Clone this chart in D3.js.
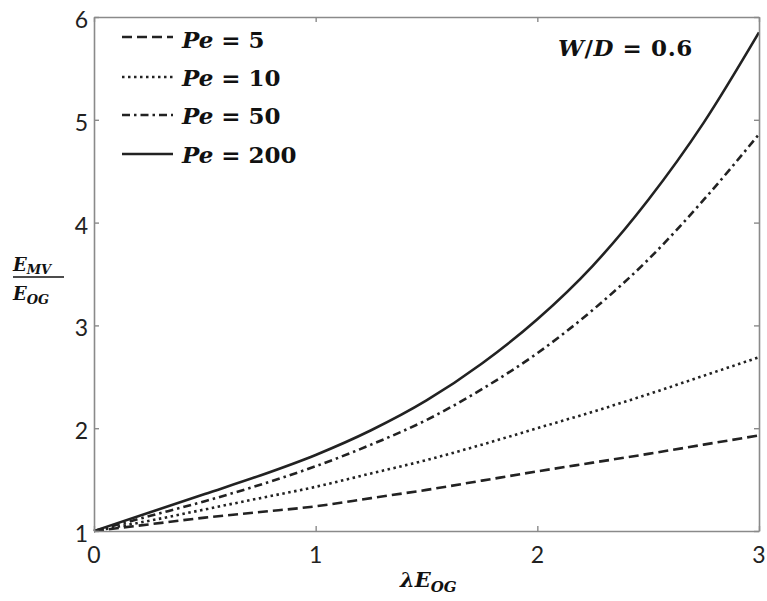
<!DOCTYPE html>
<html><head><meta charset="utf-8">
<script src="https://cdn.jsdelivr.net/npm/d3@7"></script>
<style>body{margin:0;background:#fff}svg{display:block}</style>
</head><body>
<svg id="c" width="767" height="601"></svg>
<script>
const xValues = [0, 0.25, 0.5, 0.75, 1, 1.25, 1.5, 1.75, 2, 2.25, 2.5, 2.75, 3];
const pe5   = [1, 1.065, 1.13, 1.185, 1.24, 1.32, 1.40, 1.49, 1.58, 1.665, 1.75, 1.84, 1.93];
const pe10  = [1, 1.10, 1.21, 1.32, 1.43, 1.56, 1.69, 1.84, 2.00, 2.16, 2.33, 2.51, 2.69];
const pe50  = [1, 1.145, 1.29, 1.45, 1.63, 1.84, 2.08, 2.38, 2.73, 3.15, 3.64, 4.22, 4.86];
const pe200 = [1, 1.18, 1.36, 1.54, 1.74, 1.98, 2.27, 2.63, 3.06, 3.58, 4.22, 4.97, 5.85];
const seriesNames = ["Pe = 5", "Pe = 10", "Pe = 50", "Pe = 200"];
const peLabels = ["5", "10", "50", "200"];
const xTicks = [0, 1, 2, 3];
const yTicks = [1, 2, 3, 4, 5, 6];
const annotation = "W/D = 0.6";

(function () {
const svg = d3.select("#c");
const L = 94, R = 759, T = 17, B = 531;
const x = d3.scaleLinear().domain([0, 3]).range([L, R]);
const y = d3.scaleLinear().domain([1, 6]).range([B, T]);

const dashes = ["10,5", "2.5,3.5", "8,4,2.5,4", null];
const allSeries = [pe5, pe10, pe50, pe200];
const frameColor = "#8a8a8a";
const lineColor = "#222";

// curves
const line = d3.line().x((d, i) => x(xValues[i])).y(d => y(d)).curve(d3.curveMonotoneX);
allSeries.forEach((s, k) => {
  svg.append("path").attr("d", line(s)).attr("fill", "none")
    .attr("stroke", lineColor).attr("stroke-width", 2.6)
    .attr("stroke-dasharray", dashes[k]);
});

// frame with inward ticks
const g = svg.append("g");
const tickLen = 5;
g.append("g").attr("transform", `translate(0,${B})`)
  .call(d3.axisBottom(x).tickValues(xTicks).tickSizeInner(-tickLen).tickSizeOuter(0).tickFormat(""));
g.append("g").attr("transform", `translate(0,${T})`)
  .call(d3.axisTop(x).tickValues(xTicks).tickSizeInner(-tickLen).tickSizeOuter(0).tickFormat(""));
g.append("g").attr("transform", `translate(${L},0)`)
  .call(d3.axisLeft(y).tickValues(yTicks).tickSizeInner(-tickLen).tickSizeOuter(0).tickFormat(""));
g.append("g").attr("transform", `translate(${R},0)`)
  .call(d3.axisRight(y).tickValues(yTicks).tickSizeInner(-tickLen).tickSizeOuter(0).tickFormat(""));
g.selectAll("path.domain").attr("stroke", frameColor).attr("stroke-width", 1.6);
g.selectAll(".tick line").attr("stroke", frameColor).attr("stroke-width", 1.4);

// tick labels
const tickFont = "Lato, 'Open Sans', sans-serif";
svg.append("g").selectAll("text").data(xTicks).join("text")
  .attr("x", d => x(d)).attr("y", 563).attr("text-anchor", "middle")
  .attr("font-family", tickFont).attr("font-size", 23).attr("fill", "#222")
  .text(d => d);
svg.append("g").selectAll("text").data(yTicks).join("text")
  .attr("x", 88).attr("y", d => y(d) + 11).attr("text-anchor", "end")
  .attr("font-family", tickFont).attr("font-size", 23).attr("fill", "#222")
  .text(d => d);

// legend
const serif = "'DejaVu Serif', serif";
const rowLine = [37, 77, 115, 154];
const rowBase = [48, 86, 124, 163];
seriesNames.forEach((nm, k) => {
  svg.append("line").attr("x1", 122).attr("x2", 173)
    .attr("y1", rowLine[k]).attr("y2", rowLine[k])
    .attr("stroke", lineColor).attr("stroke-width", 2.6)
    .attr("stroke-dasharray", dashes[k]);
  const t = svg.append("text").attr("x", 182).attr("y", rowBase[k])
    .attr("font-family", serif).attr("font-size", 23).attr("font-weight", "bold").attr("fill", "#111");
  t.append("tspan").attr("font-style", "italic").text("Pe");
  t.append("tspan").text(" = " + peLabels[k]);
});

// annotation
const ann = svg.append("text").attr("x", 558).attr("y", 56)
  .attr("font-family", serif).attr("font-size", 23).attr("font-weight", "bold").attr("fill", "#111")
  .attr("letter-spacing", 0.6);
ann.append("tspan").attr("font-style", "italic").text("W");
ann.append("tspan").text("/");
ann.append("tspan").attr("font-style", "italic").text("D");
ann.append("tspan").text(" = 0.6");

// y axis label (fraction)
const yl = svg.append("g").attr("font-family", serif).attr("font-weight", "bold").attr("font-style", "italic").attr("fill", "#111");
const num = yl.append("text").attr("x", 13).attr("y", 271).attr("font-size", 18);
num.append("tspan").text("E");
num.append("tspan").attr("font-size", 13).attr("dy", 3).text("MV");
svg.append("line").attr("x1", 13).attr("x2", 64).attr("y1", 277).attr("y2", 277)
  .attr("stroke", "#111").attr("stroke-width", 1.6);
const den = yl.append("text").attr("x", 13).attr("y", 300).attr("font-size", 18);
den.append("tspan").text("E");
den.append("tspan").attr("font-size", 13).attr("dy", 4).text("OG");

// x axis label
const xl = svg.append("text").attr("x", 400).attr("y", 587)
  .attr("font-family", serif).attr("font-weight", "bold").attr("font-style", "italic")
  .attr("font-size", 21).attr("fill", "#111");
xl.append("tspan").text("λE");
xl.append("tspan").attr("font-size", 15).attr("dy", 5).text("OG");
})();
</script>
</body></html>
